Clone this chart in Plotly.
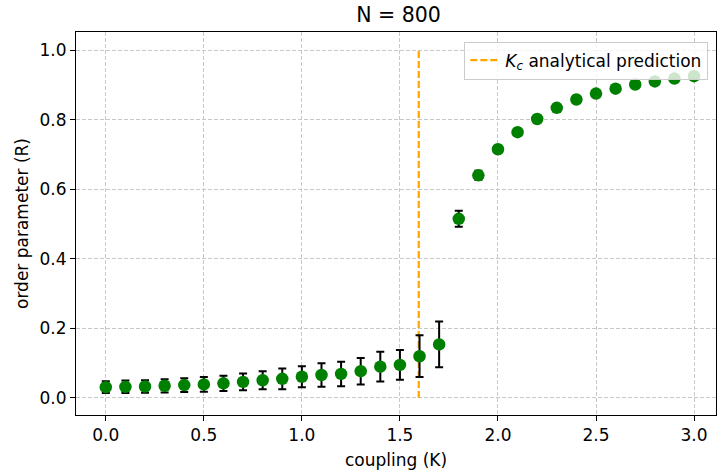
import plotly.graph_objects as go

K = [0.0, 0.1, 0.2, 0.3, 0.4, 0.5, 0.6, 0.7, 0.8, 0.9, 1.0, 1.1, 1.2, 1.3, 1.4, 1.5,
     1.6, 1.7, 1.8, 1.9, 2.0, 2.1, 2.2, 2.3, 2.4, 2.5, 2.6, 2.7, 2.8, 2.9, 3.0]
R = [0.031, 0.032, 0.033, 0.035, 0.037, 0.039, 0.042, 0.046, 0.051, 0.055, 0.061, 0.066,
     0.069, 0.077, 0.090, 0.095, 0.120, 0.154, 0.515, 0.640, 0.715, 0.764, 0.802, 0.834,
     0.858, 0.875, 0.889, 0.901, 0.910, 0.918, 0.925]
R_err = [0.017, 0.018, 0.018, 0.019, 0.020, 0.021, 0.022, 0.024, 0.026, 0.030, 0.030, 0.034,
         0.035, 0.038, 0.043, 0.043, 0.060, 0.066, 0.023, 0.013, 0.010, 0.008, 0.007, 0.006,
         0.006, 0.005, 0.005, 0.005, 0.004, 0.004, 0.004]
Kc = 1.596
Kc_line_y = [0.0, 1.0]

fig = go.Figure()
fig.add_trace(go.Scatter(
    x=[Kc, Kc], y=Kc_line_y, mode="lines",
    line=dict(color="orange", width=2.2, dash="7px,3px"),
    name="<i>K</i><sub><i>c</i></sub> analytical prediction",
))
fig.add_trace(go.Scatter(
    x=K, y=R, mode="markers",
    marker=dict(color="green", size=12.5),
    error_y=dict(type="data", array=R_err, color="black", thickness=2, width=4),
    showlegend=False,
))

axis_common = dict(
    showline=True, linecolor="black", linewidth=1, mirror=True,
    ticks="outside", ticklen=5, tickcolor="black",
    showgrid=True, gridcolor="#c8c8c8", griddash="4px,2px", gridwidth=1,
    zeroline=False,
    tickfont=dict(family="DejaVu Sans", size=17, color="black"),
)

fig.update_layout(
    width=718, height=475,
    margin=dict(l=76, r=2, t=32, b=60),
    paper_bgcolor="white", plot_bgcolor="white",
    title=dict(text="N = 800", x=0.555, xanchor="center", y=0.968, yanchor="middle",
               font=dict(family="DejaVu Sans", size=20.5, color="black")),
    font=dict(family="DejaVu Sans", color="black"),
    xaxis=dict(range=[-0.152, 3.112], tickvals=[0, 0.5, 1, 1.5, 2, 2.5, 3], tickformat=".1f",
               title=dict(text="coupling (K)", font=dict(size=17), standoff=9),
               **axis_common),
    yaxis=dict(range=[-0.049, 1.052], tickvals=[0, 0.2, 0.4, 0.6, 0.8, 1.0], tickformat=".1f",
               title=dict(text="order parameter (R)", font=dict(size=17), standoff=6),
               **axis_common),
    legend=dict(x=0.988, y=0.975, xanchor="right", yanchor="top",
                bgcolor="rgba(255,255,255,0.8)", bordercolor="#cccccc", borderwidth=1,
                font=dict(family="DejaVu Sans", size=17, color="black")),
)

fig.write_html("out.html")
